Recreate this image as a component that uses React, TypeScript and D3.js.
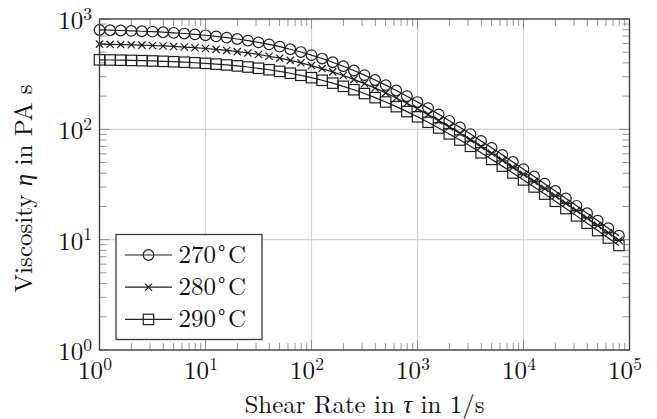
import React from "react";
import * as d3 from "d3";

const shearRate = [
  1, 1.259, 1.585, 1.995, 2.512, 3.162, 3.981, 5.012, 6.31, 7.943,
  10, 12.59, 15.85, 19.95, 25.12, 31.62, 39.81, 50.12, 63.1, 79.43,
  100, 125.9, 158.5, 199.5, 251.2, 316.2, 398.1, 501.2, 631, 794.3,
  1000, 1259, 1585, 1995, 2512, 3162, 3981, 5012, 6310, 7943,
  10000, 12589, 15849, 19953, 25119, 31623, 39811, 50119, 63096, 79433,
];

const visc270 = [
  795.3, 791.3, 786.5, 781.0, 774.7, 767.4, 759.0, 749.4, 738.5, 726.0,
  712.0, 696.2, 678.6, 659.0, 637.4, 613.9, 588.4, 561.1, 532.2, 501.9,
  470.4, 438.2, 405.7, 373.3, 341.3, 310.1, 280.1, 251.6, 224.8, 199.8,
  176.8, 155.7, 136.7, 119.5, 104.2, 90.6, 78.5, 67.96, 58.69, 50.6,
  43.56, 37.46, 32.17, 27.6, 23.66, 20.27, 17.36, 14.86, 12.71, 10.87,
];

const visc280 = [
  592.1, 589.6, 586.7, 583.3, 579.5, 575.0, 569.8, 563.8, 557.0, 549.2,
  540.4, 530.4, 519.1, 506.4, 492.4, 476.9, 459.9, 441.5, 421.6, 400.6,
  378.5, 355.4, 331.7, 307.7, 283.6, 259.8, 236.5, 214.0, 192.5, 172.3,
  153.4, 135.9, 119.9, 105.3, 92.18, 80.44, 69.99, 60.73, 52.58, 45.44,
  39.19, 33.76, 29.03, 24.94, 21.41, 18.36, 15.73, 13.47, 11.53, 9.865,
];

const visc290 = [
  426.5, 425.1, 423.4, 421.4, 419.2, 416.6, 413.5, 410.1, 406.1, 401.4,
  396.2, 390.2, 383.4, 375.7, 367.1, 357.5, 346.9, 335.2, 322.4, 308.7,
  294.0, 278.4, 262.2, 245.4, 228.3, 211.0, 193.8, 176.9, 160.5, 144.8,
  129.9, 115.9, 102.9, 90.91, 80.02, 70.16, 61.3, 53.4, 46.4, 40.21,
  34.77, 30.02, 25.87, 22.27, 19.14, 16.43, 14.1, 12.08, 10.35, 8.862,
];

const seriesLabels = ["270", "280", "290"];
const seriesMarkers = ["circle", "cross", "square"];
const xTickExps = [0, 1, 2, 3, 4, 5];
const yTickExps = [0, 1, 2, 3];
const xLabelText = ["Shear Rate in ", "τ", " in 1/s"];
const yLabelText = ["Viscosity ", "η", " in PA s"];

const W = 657;
const H = 419;
const L = 99.5;
const R = 629.5;
const T = 19;
const B = 350;
const INK = "#1e1e1e";
const textStyle: React.CSSProperties = { fontFamily: "'Latin Modern Roman'" };
const FS = 25;
const SUP = 17.5;

function Marker({ kind, cx, cy }: { kind: string; cx: number; cy: number }) {
  if (kind === "circle")
    return <circle cx={cx} cy={cy} r={5.3} fill="none" stroke={INK} strokeWidth={1.2} />;
  if (kind === "square")
    return (
      <rect x={cx - 5.2} y={cy - 5.2} width={10.4} height={10.4} fill="none" stroke={INK} strokeWidth={1.2} />
    );
  const s = 3.6;
  return (
    <path
      d={`M${cx - s},${cy - s}L${cx + s},${cy + s}M${cx - s},${cy + s}L${cx + s},${cy - s}`}
      stroke={INK}
      strokeWidth={1.2}
    />
  );
}

export default function App() {
  const x = d3.scaleLog().domain([1, 1e5]).range([L, R]);
  const y = d3.scaleLog().domain([1, 1e3]).range([B, T]);
  const series = [visc270, visc280, visc290];

  const line = d3
    .line<[number, number]>()
    .x((d) => x(d[0]))
    .y((d) => y(d[1]));

  const minorX: number[] = [];
  for (let e = 0; e < 5; e++) for (let m = 2; m <= 9; m++) minorX.push(m * Math.pow(10, e));
  const minorY: number[] = [];
  for (let e = 0; e < 3; e++) for (let m = 2; m <= 9; m++) minorY.push(m * Math.pow(10, e));

  const tickColor = "#8a8a8a";
  const minorLen = 7;
  const majorLen = 10;

  return (
    <svg width={W} height={H} style={{ position: "absolute", left: 0, top: 0, background: "#fff" }}>
      <rect x={0} y={0} width={W} height={H} fill="#fff" />
      {xTickExps.map((e) => (
        <line key={"gx" + e} x1={x(Math.pow(10, e))} x2={x(Math.pow(10, e))} y1={T} y2={B} stroke="#d3d3d3" strokeWidth={1.2} />
      ))}
      {yTickExps.map((e) => (
        <line key={"gy" + e} x1={L} x2={R} y1={y(Math.pow(10, e))} y2={y(Math.pow(10, e))} stroke="#d3d3d3" strokeWidth={1.2} />
      ))}
      {minorX.map((v, i) => (
        <g key={"mx" + i} stroke={tickColor} strokeWidth={0.9}>
          <line x1={x(v)} x2={x(v)} y1={B} y2={B - minorLen} />
          <line x1={x(v)} x2={x(v)} y1={T} y2={T + minorLen} />
        </g>
      ))}
      {minorY.map((v, i) => (
        <g key={"my" + i} stroke={tickColor} strokeWidth={0.9}>
          <line x1={L} x2={L + minorLen} y1={y(v)} y2={y(v)} />
          <line x1={R} x2={R - minorLen} y1={y(v)} y2={y(v)} />
        </g>
      ))}
      {xTickExps.map((e) => (
        <g key={"Mx" + e} stroke={tickColor} strokeWidth={0.9}>
          <line x1={x(Math.pow(10, e))} x2={x(Math.pow(10, e))} y1={B} y2={B - majorLen} />
          <line x1={x(Math.pow(10, e))} x2={x(Math.pow(10, e))} y1={T} y2={T + majorLen} />
        </g>
      ))}
      {yTickExps.map((e) => (
        <g key={"My" + e} stroke={tickColor} strokeWidth={0.9}>
          <line x1={L} x2={L + majorLen} y1={y(Math.pow(10, e))} y2={y(Math.pow(10, e))} />
          <line x1={R} x2={R - majorLen} y1={y(Math.pow(10, e))} y2={y(Math.pow(10, e))} />
        </g>
      ))}
      {series.map((vals, si) => {
        const pts: [number, number][] = vals.map((v, i) => [shearRate[i], v]);
        return (
          <g key={"s" + si}>
            <path d={line(pts) || ""} fill="none" stroke={INK} strokeWidth={1.2} />
            {pts.map((p, i) => (
              <Marker key={i} kind={seriesMarkers[si]} cx={x(p[0])} cy={y(p[1])} />
            ))}
          </g>
        );
      })}
      <rect x={L} y={T} width={R - L} height={B - T} fill="none" stroke="#3a3a3a" strokeWidth={1.3} />
      {xTickExps.map((e) => (
        <text key={"xl" + e} x={x(Math.pow(10, e)) - 4.5} y={379} style={textStyle} fontSize={FS} textAnchor="middle" fill="#111">
          10
          <tspan dy={-9.5} fontSize={SUP}>{e}</tspan>
        </text>
      ))}
      {yTickExps.map((e) => (
        <text key={"yl" + e} x={92} y={y(Math.pow(10, e)) + 10} style={textStyle} fontSize={FS} textAnchor="end" fill="#111">
          10
          <tspan dy={-9.5} fontSize={SUP}>{e}</tspan>
        </text>
      ))}
      <text x={(L + R) / 2} y={412.5} style={textStyle} fontSize={FS} textAnchor="middle" fill="#111">
        {xLabelText[0]}
        <tspan fontStyle="italic">{xLabelText[1]}</tspan>
        {xLabelText[2]}
      </text>
      <text
        transform={`translate(31.5, ${(T + B) / 2 + 4}) rotate(-90)`}
        x={0}
        y={0}
        style={textStyle}
        fontSize={FS}
        textAnchor="middle"
        fill="#111"
      >
        {yLabelText[0]}
        <tspan fontStyle="italic">{yLabelText[1]}</tspan>
        {yLabelText[2]}
      </text>
      <rect x={116} y={234.5} width={146} height={105} fill="#fff" stroke="#3a3a3a" strokeWidth={1.3} />
      {seriesLabels.map((lab, i) => {
        const cy = 255 + i * 32.2;
        return (
          <g key={"lg" + i}>
            <line x1={125} x2={172} y1={cy} y2={cy} stroke={INK} strokeWidth={1.2} />
            <Marker kind={seriesMarkers[i]} cx={148.5} cy={cy} />
            <text x={178.5} y={cy + 8} style={textStyle} fontSize={FS} fill="#111">
              {lab}
              <tspan dy={-10} fontSize={SUP}>{"∘"}</tspan>
              <tspan dy={10} dx={1}>C</tspan>
            </text>
          </g>
        );
      })}
    </svg>
  );
}
